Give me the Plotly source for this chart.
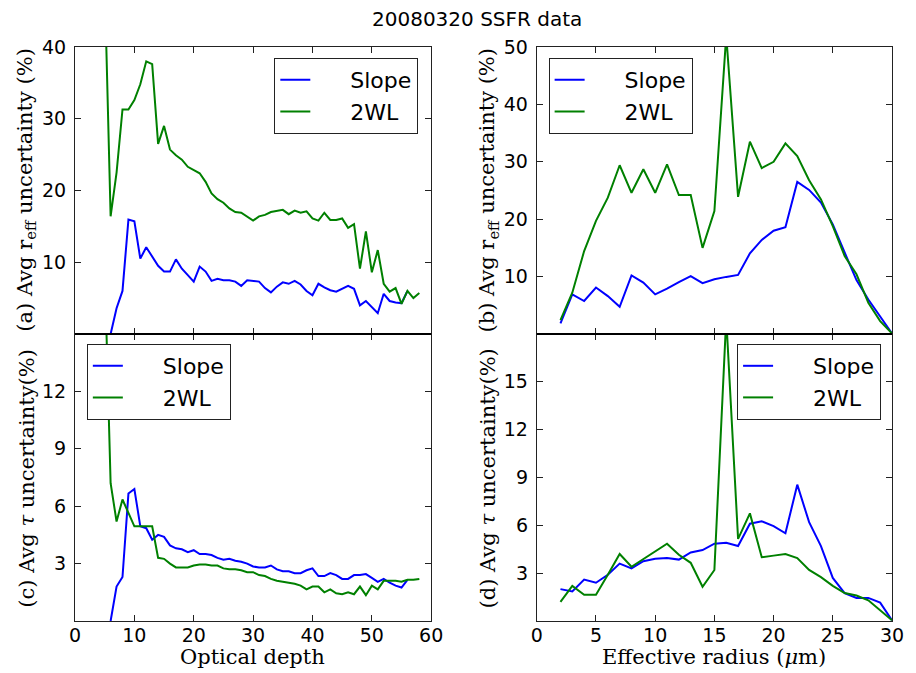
import plotly.graph_objects as go

# ---------------- data ----------------
# (a)/(c): versus optical depth
tau_slope_x = list(range(6, 57))
tau_2wl_x = list(range(5, 59))

reff_unc_slope_vs_tau = [0.0, 3.6, 6.0, 15.95, 15.7, 10.5, 12.1, 10.8, 9.5, 8.7,
                         8.7, 10.4, 9.1, 8.2, 7.3, 9.4, 8.7, 7.4, 7.7, 7.5,
                         7.5, 7.3, 6.7, 7.5, 7.4, 7.3, 6.4, 5.8, 6.6, 7.2,
                         7.0, 7.4, 6.9, 6.0, 5.4, 7.0, 6.5, 6.1, 5.9, 6.3,
                         6.7, 6.3, 4.0, 4.6, 3.7, 2.9, 5.6, 4.6, 4.4, 4.3,
                         6.0]
reff_unc_2wl_vs_tau = [49.0, 16.4, 22.5, 31.3, 31.3, 32.6, 34.8, 38.0, 37.6, 26.5,
                       29.0, 25.7, 24.9, 24.3, 23.3, 22.8, 22.4, 21.2, 19.6, 18.8,
                       18.3, 17.5, 17.0, 16.9, 16.4, 15.8, 16.4, 16.6, 17.0, 17.1,
                       17.3, 16.7, 17.2, 16.9, 17.1, 16.1, 15.8, 16.9, 15.9, 15.9,
                       16.1, 14.8, 15.3, 9.1, 14.3, 8.6, 11.7, 7.0, 5.9, 6.4,
                       4.2, 6.0, 5.0, 5.7]
tau_unc_slope_vs_tau = [0.0, 1.8, 2.3, 6.66, 6.9, 4.95, 4.85, 4.25, 4.5, 4.4,
                        3.95, 3.8, 3.75, 3.6, 3.7, 3.5, 3.5, 3.45, 3.3, 3.2,
                        3.25, 3.15, 3.1, 3.0, 2.85, 2.8, 2.8, 2.9, 2.7, 2.6,
                        2.6, 2.5, 2.5, 2.65, 2.75, 2.35, 2.35, 2.5, 2.4, 2.2,
                        2.2, 2.4, 2.4, 2.45, 2.25, 2.05, 2.2, 2.0, 1.85, 1.75,
                        2.15]
tau_unc_2wl_vs_tau = [18.5, 7.2, 5.2, 6.35, 5.65, 4.95, 4.95, 4.95, 4.95, 3.3,
                      3.25, 3.0, 2.8, 2.8, 2.8, 2.9, 2.95, 2.95, 2.9, 2.9,
                      2.75, 2.7, 2.7, 2.65, 2.55, 2.55, 2.4, 2.35, 2.2, 2.1,
                      2.05, 2.0, 1.95, 1.85, 1.65, 1.8, 1.8, 1.5, 1.65, 1.45,
                      1.4, 1.5, 1.4, 1.8, 1.35, 1.85, 1.65, 2.1, 2.1, 2.1,
                      2.05, 2.15, 2.15, 2.2]

# (b)/(d): versus effective radius
reff_x = list(range(2, 31))
reff_unc_slope_vs_reff = [1.85, 6.9, 5.75, 8.1, 6.6, 4.75, 10.2, 8.95, 6.9, 7.9,
                          9.05, 10.1, 8.85, 9.55, 9.95, 10.3, 14.05, 16.4, 18.0, 18.6,
                          26.5, 25.1, 22.9, 19.1, 14.2, 9.4, 6.0, 3.0, 0.1]
reff_unc_2wl_vs_reff = [2.4, 7.2, 14.45, 19.7, 23.75, 29.4, 24.6, 28.7, 24.6, 29.55,
                        24.2, 24.2, 15.0, 21.4, 52.0, 23.9, 33.5, 28.9, 30.0, 33.2,
                        31.0, 26.8, 23.45, 18.8, 13.6, 10.4, 5.45, 2.25, 0.1]
tau_unc_slope_vs_reff = [2.0, 1.85, 2.6, 2.4, 2.9, 3.6, 3.3, 3.75, 3.9, 3.95,
                         3.85, 4.3, 4.45, 4.85, 4.9, 4.7, 6.1, 6.25, 5.95, 5.5,
                         8.55, 6.2, 4.7, 2.7, 1.75, 1.45, 1.45, 1.15, 0.05]
tau_unc_2wl_vs_reff = [1.2, 2.2, 1.65, 1.65, 2.9, 4.2, 3.4, 3.9, 4.35, 4.85,
                       4.15, 3.65, 2.15, 3.2, 19.0, 5.15, 6.75, 4.0, 4.1, 4.2,
                       3.95, 3.2, 2.75, 2.2, 1.75, 1.6, 1.3, 0.7, 0.05]

series_names = ["Slope", "2WL"]
title_text = "20080320 SSFR data"
tau_xticks = [0, 10, 20, 30, 40, 50, 60]
reff_xticks = [0, 5, 10, 15, 20, 25, 30]
yticks_a = [10, 20, 30, 40]
yticks_b = [10, 20, 30, 40, 50]
yticks_c = [3, 6, 9, 12]
yticks_d = [3, 6, 9, 12, 15]

# ---------------- styling ----------------
BLUE = "#0000ff"
GREEN = "#008000"
LW = 2
PAD = "\u00a0" * 5

fig = go.Figure()

panels = [
    ("x", "y", tau_slope_x, reff_unc_slope_vs_tau, tau_2wl_x, reff_unc_2wl_vs_tau, "legend"),
    ("x2", "y2", reff_x, reff_unc_slope_vs_reff, reff_x, reff_unc_2wl_vs_reff, "legend2"),
    ("x3", "y3", tau_slope_x, tau_unc_slope_vs_tau, tau_2wl_x, tau_unc_2wl_vs_tau, "legend3"),
    ("x4", "y4", reff_x, tau_unc_slope_vs_reff, reff_x, tau_unc_2wl_vs_reff, "legend4"),
]
for xa, ya, sx, sy, gx, gy, lg in panels:
    fig.add_trace(go.Scatter(x=sx, y=sy, mode="lines", name=PAD + series_names[0],
                             line=dict(color=BLUE, width=LW), xaxis=xa, yaxis=ya,
                             legend=lg, showlegend=True))
    fig.add_trace(go.Scatter(x=gx, y=gy, mode="lines", name=PAD + series_names[1],
                             line=dict(color=GREEN, width=LW), xaxis=xa, yaxis=ya,
                             legend=lg, showlegend=True))

TICKFONT = dict(family="DejaVu Sans", size=19, color="black")
axis_common = dict(showline=True, linecolor="#222", linewidth=1, mirror="allticks",
                   ticks="inside", ticklen=6, tickcolor="#222", tickwidth=1,
                   showgrid=False, zeroline=False, tickfont=TICKFONT)

left_dom = [0.0, 361 / 828]
right_dom = [468 / 828, 1.0]
top_dom = [0.5, 1.0]
bot_dom = [0.0, 0.5]

fig.update_layout(
    width=916, height=673,
    margin=dict(l=75, r=13, t=47, b=52),
    paper_bgcolor="white", plot_bgcolor="white",
    xaxis=dict(domain=left_dom, anchor="y", range=[0, 60], tickvals=tau_xticks,
               showticklabels=False, **axis_common),
    yaxis=dict(domain=top_dom, anchor="x", range=[0, 40], tickvals=yticks_a,
               ticklabelstandoff=4, **axis_common),
    xaxis2=dict(domain=right_dom, anchor="y2", range=[0, 30], tickvals=reff_xticks,
                showticklabels=False, **axis_common),
    yaxis2=dict(domain=top_dom, anchor="x2", range=[0, 50], tickvals=yticks_b,
                ticklabelstandoff=4, **axis_common),
    xaxis3=dict(domain=left_dom, anchor="y3", range=[0, 60], tickvals=tau_xticks,
                ticklabelstandoff=-3, **axis_common),
    yaxis3=dict(domain=bot_dom, anchor="x3", range=[0, 15], tickvals=yticks_c,
                ticklabelstandoff=4, **axis_common),
    xaxis4=dict(domain=right_dom, anchor="y4", range=[0, 30], tickvals=reff_xticks,
                ticklabelstandoff=-3, **axis_common),
    yaxis4=dict(domain=bot_dom, anchor="x4", range=[0, 18], tickvals=yticks_d,
                ticklabelstandoff=4, **axis_common),
    showlegend=True,
)

LEGEND_COMMON = dict(xanchor="left", yanchor="top", bgcolor="white",
                     bordercolor="#222", borderwidth=1,
                     font=dict(family="DejaVu Sans", size=22, color="black"),
                     itemwidth=30, tracegroupgap=0, traceorder="normal")
fig.update_layout(
    legend=dict(x=(277 - 75) / 828, y=(621 - 58) / 574, **LEGEND_COMMON),
    legend2=dict(x=(555 - 75) / 828, y=(621 - 58) / 574, **LEGEND_COMMON),
    legend3=dict(x=(87 - 75) / 828, y=(621 - 344) / 574, **LEGEND_COMMON),
    legend4=dict(x=(746 - 75) / 828, y=(621 - 344) / 574, **LEGEND_COMMON),
)

# shared boundary between upper and lower panels
fig.add_shape(type="line", xref="paper", yref="paper", x0=0, x1=361 / 828, y0=0.5, y1=0.5,
              line=dict(color="black", width=2))
fig.add_shape(type="line", xref="paper", yref="paper", x0=468 / 828, x1=1, y0=0.5, y1=0.5,
              line=dict(color="black", width=2))

SERIF = dict(family="DejaVu Serif", size=21, color="black")

def px(xp):
    return (xp - 75) / 828

def py(yp):
    return (621 - yp) / 574

annots = [
    dict(text=title_text, x=px(482), y=py(19), font=dict(family="DejaVu Sans", size=20, color="black")),
    dict(text="(a) Avg r<sub>eff</sub> uncertainty (%)", x=px(25), y=py(190), textangle=-90, font=SERIF),
    dict(text="(b) Avg r<sub>eff</sub> uncertainty (%)", x=px(494), y=py(190), textangle=-90, font=SERIF),
    dict(text="(c) Avg <i>τ</i> uncertainty(%)", x=px(26), y=py(478), textangle=-90, font=SERIF),
    dict(text="(d) Avg <i>τ</i> uncertainty(%)", x=px(494), y=py(478), textangle=-90, font=SERIF),
    dict(text="Optical depth", x=px(255), y=py(657), font=SERIF),
    dict(text="Effective radius (<i>μ</i>m)", x=px(723), y=py(657), font=SERIF),
]
for a in annots:
    fig.add_annotation(xref="paper", yref="paper", showarrow=False,
                       xanchor="center", yanchor="middle", **a)

fig.write_html("out.html")
